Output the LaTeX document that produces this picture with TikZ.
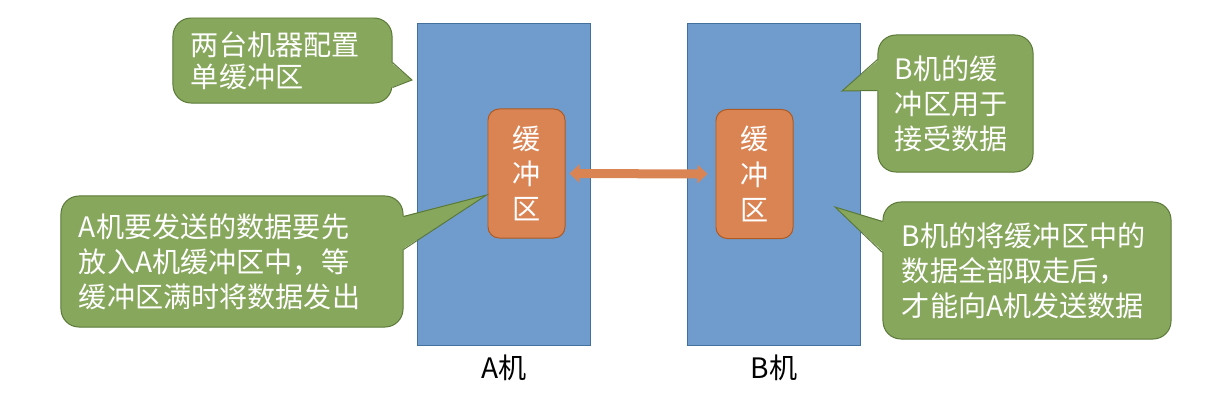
\documentclass[tikz,border=0pt]{standalone}
\usepackage{fontspec}
\setmainfont{Noto Sans CJK SC}
\usetikzlibrary{positioning,calc,arrows.meta}
\definecolor{machblue}{RGB}{112,156,205}
\definecolor{machedge}{RGB}{65,113,156}
\definecolor{buforange}{RGB}{218,132,84}
\definecolor{bufedge}{RGB}{174,90,33}
\definecolor{notegreen}{RGB}{135,167,92}
\definecolor{noteedge}{RGB}{90,120,55}
\begin{document}
\begin{tikzpicture}[
                        x=0.025cm, y=-0.025cm,
                        node distance=0.1cm,
                        >=latex,
                        machine/.style={rectangle, draw=machedge, fill=machblue, line width=0.7pt, minimum width=4.3cm, minimum height=8.025cm},
                        buffer/.style={rectangle, rounded corners=0.28cm, draw=bufedge, fill=buforange, line width=0.7pt, minimum width=1.925cm, minimum height=3.225cm, text=white, align=center, font=\fontsize{20pt}{25pt}\selectfont},
                        note/.style={rectangle, rounded corners=0.45cm, draw=noteedge, fill=notegreen, line width=0.7pt, text=white, align=left, inner xsep=0.45cm, font=\fontsize{20pt}{25pt}\selectfont},
                        notefill/.style={fill=notegreen},
                        noteline/.style={draw=noteedge, line width=0.7pt},
                        link/.style={draw=buforange, line width=0.225cm, {Triangle[length=0.25cm,width=0.45cm]}-{Triangle[length=0.25cm,width=0.45cm]}, shorten <=0.1cm, shorten >=0.2cm}
                    ]
                    \useasboundingbox (0,0) rectangle (1216,404);
                    % Blocks
                    \node [machine] (machA) at (504,184.5) {};
                    \node [machine] (machB) at (774,184.5) {};
                    \node [buffer] (bufA) at (526.5,173.5) {缓\\冲\\区};
                    \node [buffer] (bufB) at (754.5,174) {缓\\冲\\区};
                    \node [below=of machA, font=\fontsize{20pt}{25pt}\selectfont] (labA) {A机};
                    \node [below=of machB, font=\fontsize{20pt}{25pt}\selectfont] (labB) {B机};

                    % Notes
                    \node [note, text width=4.575cm, minimum height=2.125cm, font=\fontsize{20pt}{23pt}\selectfont] (note1) at (282.5,60.5) {两台机器配置\\单缓冲区};
                    \node [note, text width=7.65cm, minimum height=3.275cm] (note2) at (232,261.5) {A机要发送的数据要先\\放入A机缓冲区中，等\\缓冲区满时将数据发出};
                    \node [note, text width=3.025cm, inner xsep=0.425cm, minimum height=3.425cm] (note3) at (955.5,103.5) {B机的缓\\冲区用于\\接受数据};
                    \node [note, text width=6.25cm, inner xsep=0.475cm, minimum height=3.425cm] (note4) at (1027,270.5) {B机的将缓冲区中的\\数据全部取走后，\\才能向A机发送数据};

                    % Pointers
                    \coordinate (tip1) at (412,80);
                    \coordinate (tip2) at ($(bufA.west)+(-1,21.5)$);
                    \coordinate (tip3) at (842,91);
                    \coordinate (tip4) at (835,207);
                    \fill [notefill] ($(note1.north east)+(-1.5,45)$) -- (tip1) -- ($(note1.north east)+(-1.5,70)$) -- cycle;
                    \draw [noteline] ($(note1.north east)+(0,45)$) -- (tip1) -- ($(note1.north east)+(0,70)$);
                    \fill [notefill] ($(note2.north east)+(-1.5,21)$) -- (tip2) -- ($(note2.north east)+(-1.5,54)$) -- cycle;
                    \draw [noteline] ($(note2.north east)+(0,21)$) -- (tip2) -- ($(note2.north east)+(0,54)$);
                    \fill [notefill] ($(note3.north west)+(1.5,25)$) -- (tip3) -- ($(note3.north west)+(1.5,56)$) -- cycle;
                    \draw [noteline] ($(note3.north west)+(0,25)$) -- (tip3) -- ($(note3.north west)+(0,56)$);
                    \fill [notefill] ($(note4.north west)+(1.5,20)$) -- (tip4) -- ($(note4.north west)+(1.5,51)$) -- cycle;
                    \draw [noteline] ($(note4.north west)+(0,20)$) -- (tip4) -- ($(note4.north west)+(0,51)$);

                    % Connections
                    \draw [link] (bufA.east) -- (bufB.west);
                \end{tikzpicture}
\end{document}
